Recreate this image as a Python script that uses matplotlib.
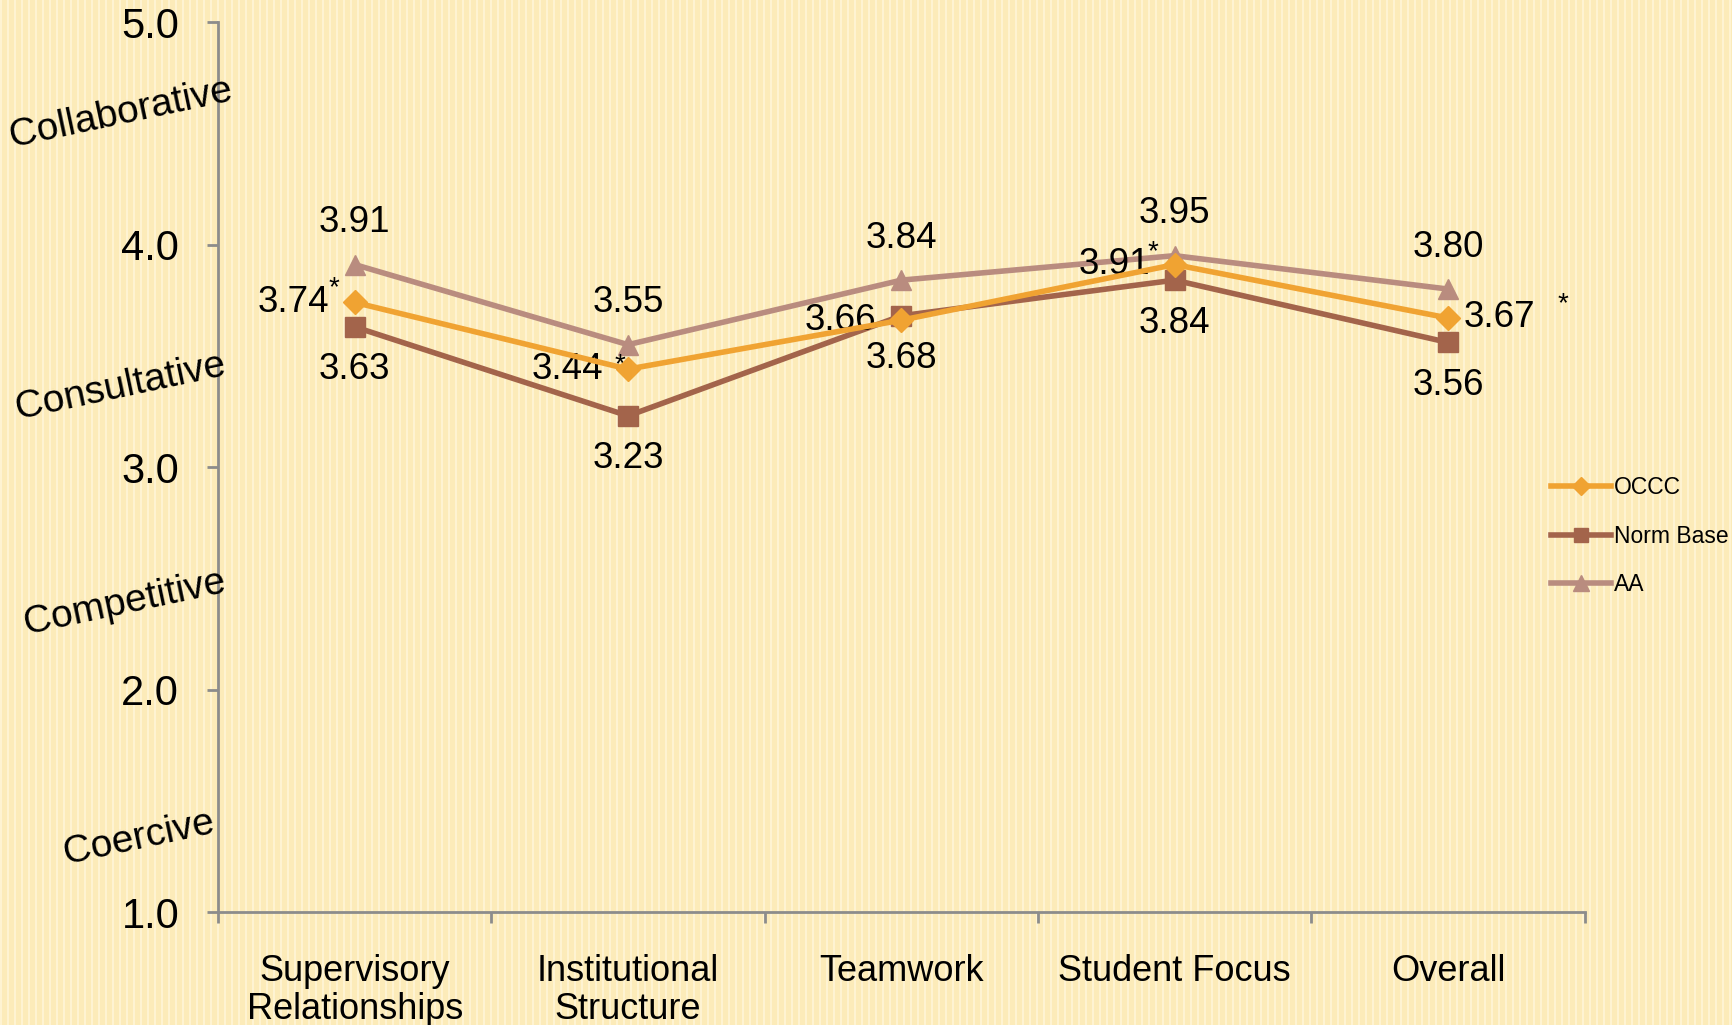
import numpy as np
import matplotlib
matplotlib.use('Agg')
import matplotlib.pyplot as plt
import matplotlib.transforms as mtransforms

categories = ['Supervisory\nRelationships', 'Institutional\nStructure', 'Teamwork', 'Student Focus', 'Overall']
occc = [3.74, 3.44, 3.66, 3.91, 3.67]
norm_base = [3.63, 3.23, 3.68, 3.84, 3.56]
aa = [3.91, 3.55, 3.84, 3.95, 3.80]
y_ticks = [1.0, 2.0, 3.0, 4.0, 5.0]
styles = ['Collaborative', 'Consultative', 'Competitive', 'Coercive']
style_y = [4.59, 3.36, 2.39, 1.33]
style_x = [-0.071, -0.071, -0.068, -0.058]
starred = [0, 1, 3, 4]   # OCCC points marked with *

bg = '#FCEBB9'
c_occc = '#F0A332'
c_norm = '#A3644B'
c_aa = '#B98C7F'
grey = '#8C8C8C'

fig = plt.figure(figsize=(17.32, 10.25), dpi=100, facecolor=bg)

# faint vertical stripe texture of the slide background
bgax = fig.add_axes([0, 0, 1, 1], zorder=-10)
stripe = np.tile((np.arange(1732) % 7 < 2).astype(float), (4, 1))
bgax.imshow(stripe, aspect='auto', cmap=matplotlib.colors.LinearSegmentedColormap.from_list('s', [bg, '#FEF3D2']),
            extent=[0, 1, 0, 1], interpolation='nearest')
bgax.axis('off')

ax = fig.add_axes([0.1259, 0.1102, 0.789, 0.8683])
ax.set_facecolor('none')

x = np.arange(len(categories))
ax.plot(x, occc, color=c_occc, lw=4, marker='D', ms=12, label='OCCC', zorder=4)
ax.plot(x, norm_base, color=c_norm, lw=4, marker='s', ms=14, label='Norm Base', zorder=3)
ax.plot(x, aa, color=c_aa, lw=4, marker='^', ms=15, label='AA', zorder=2)

lab = dict(fontsize=26.5, family='Liberation Sans', color='black', textcoords='offset points')
for i in range(len(x)):
    ax.annotate('%.2f' % aa[i], (x[i], aa[i]), xytext=(0, 30), ha='center', va='center', **lab)
    ax.annotate('%.2f' % norm_base[i], (x[i], norm_base[i]), xytext=(0, -31), ha='center', va='center', **lab)
    if i == len(x) - 1:
        ax.annotate('%.2f' % occc[i], (x[i], occc[i]), xytext=(11, 0), ha='left', va='center', **lab)
    else:
        ax.annotate('%.2f' % occc[i], (x[i], occc[i]), xytext=(-18, 0), ha='right', va='center', **lab)

star_off = {0: (-15, 10), 1: (-6, 3), 3: (-16, 9), 4: (83, 10)}
for i in starred:
    ax.annotate('*', (x[i], occc[i]), xytext=star_off[i], textcoords='offset points',
                ha='center', va='center', fontsize=20, family='Liberation Sans')

ax.set_xlim(-0.5, len(categories) - 0.5)
ax.set_ylim(1.0, 5.0)

ax.set_xticks(x)
ax.set_xticklabels(categories, fontsize=26, family=['Liberation Sans Narrow', 'Liberation Sans'], linespacing=1.12)
ax.set_xticks(np.arange(len(categories) + 1) - 0.5, minor=True)
ax.tick_params(axis='x', which='major', length=0, pad=30)
ax.tick_params(axis='x', which='minor', length=8, width=2, color=grey, direction='out')

ax.set_yticks(y_ticks)
ax.set_yticklabels(['%.1f' % v for v in y_ticks], fontsize=30, family='Liberation Sans')
ax.tick_params(axis='y', length=8, width=2, color=grey, direction='out', pad=20)

for s in ['top', 'right']:
    ax.spines[s].set_visible(False)
for s in ['left', 'bottom']:
    ax.spines[s].set_color(grey)
    ax.spines[s].set_linewidth(2)

trans = mtransforms.blended_transform_factory(ax.transAxes, ax.transData)
for name, xv, yv in zip(styles, style_x, style_y):
    ax.text(xv, yv, name, transform=trans, rotation=12, ha='center', va='center',
            fontsize=28, family='Liberation Sans', rotation_mode='anchor', clip_on=False)

ax.legend(loc='center left', bbox_to_anchor=(0.8955, 0.477), bbox_transform=fig.transFigure,
          frameon=False, handlelength=2.6, handletextpad=0.15, labelspacing=1.1,
          borderpad=0, borderaxespad=0, markerscale=0.75, prop={'family': 'Liberation Sans', 'size': 16.5})

fig.savefig('out.png', dpi=100, facecolor=bg)
